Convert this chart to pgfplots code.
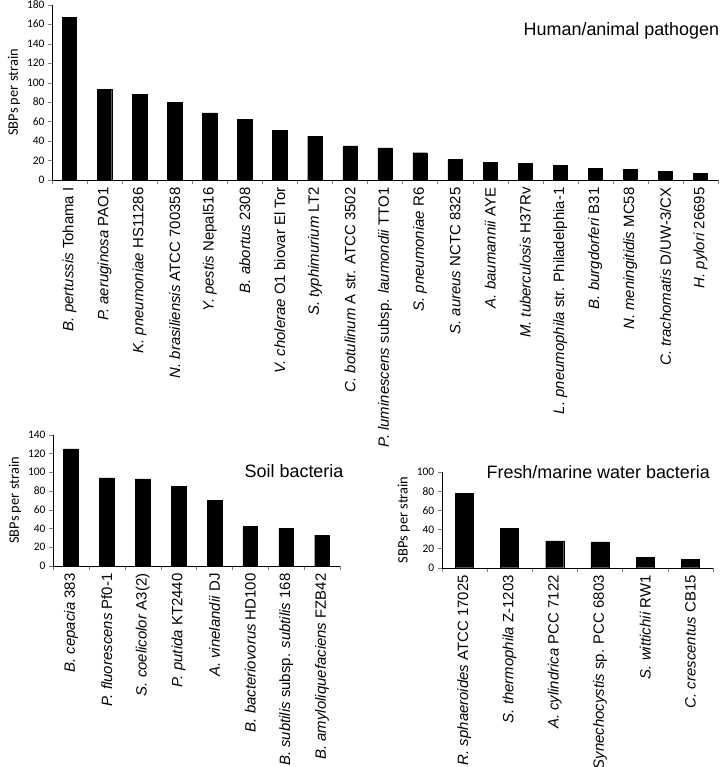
\documentclass[border=0pt]{standalone}
\usepackage{fontspec}
\setmainfont{Liberation Sans}
\newfontfamily\calib{Carlito}
\usepackage{pgfplots}
\pgfplotsset{compat=1.18}

\pgfplotsset{
  sbp/.style={
    scale only axis,
    clip=false,
    ybar, bar shift=0pt,
    axis x line*=bottom, axis y line*=left,
    ymin=0,
    xtick=data,
    major x tick style={draw=none},
    tick align=outside,
    major tick length=4bp, minor tick length=4bp,
    /pgf/number format/assume math mode=true,
    yticklabel style={font=\fontsize{11.5}{12}\selectfont\calib},
    ylabel={SBPs per strain},
    ylabel style={font=\fontsize{14.5}{16}\selectfont\calib},
    x tick label style={rotate=90, anchor=east, font=\fontsize{15}{17}\selectfont},
    enlarge x limits=false,
  },
}

\begin{document}
\begin{tikzpicture}
\useasboundingbox (0,0) rectangle (720bp,767bp);

% human / animal pathogens
\begin{axis}[sbp,
  at={(52bp,587bp)}, anchor=south west,
  width=666bp, height=175.3bp,
  bar width=14.3bp,
  xmin=-0.5, xmax=18.5,
  ymax=180, ytick={0,20,...,180},
  minor xtick={-0.5,0.5,...,18.5},
  xticklabels={
    {\textit{B. pertussis} Tohama I},
    {\textit{P. aeruginosa} PAO1},
    {\textit{K. pneumoniae} HS11286},
    {\textit{N. brasiliensis} ATCC 700358},
    {\textit{Y. pestis} Nepal516},
    {\textit{B. abortus} 2308},
    {\textit{V. cholerae} O1 biovar El Tor},
    {\textit{S. typhimurium} LT2},
    {\textit{C. botulinum} A str. ATCC 3502},
    {\textit{P. luminescens} subsp. \textit{laumondii} TTO1},
    {\textit{S. pneumoniae} R6},
    {\textit{S. aureus} NCTC 8325},
    {\textit{A. baumannii} AYE},
    {\textit{M. tuberculosis} H37Rv},
    {\textit{L. pneumophila} str. Philadelphia-1},
    {\textit{B. burgdorferi} B31},
    {\textit{N. meningitidis} MC58},
    {\textit{C. trachomatis} D/UW-3/CX},
    {\textit{H. pylori} 26695}},
]
\addplot[fill=black, draw=black] coordinates {
  (0,167) (1,93) (2,88) (3,80) (4,69) (5,62) (6,51) (7,45) (8,35) (9,33)
  (10,28) (11,21) (12,18) (13,17) (14,15) (15,12) (16,11) (17,9) (18,7)
};
\node[font=\fontsize{18}{20}\selectfont] at (rel axis cs:0.855,0.853) {Human/animal pathogen};
\end{axis}

% soil bacteria
\begin{axis}[sbp,
  at={(53bp,201bp)}, anchor=south west,
  width=287bp, height=131.3bp,
  bar width=14.7bp,
  xmin=-0.5, xmax=7.5,
  ymax=140, ytick={0,20,...,140},
  minor xtick={-0.5,0.5,...,7.5},
  xticklabels={
    {\textit{B. cepacia} 383},
    {\textit{P. fluorescens} Pf0-1},
    {\textit{S. coelicolor} A3(2)},
    {\textit{P. putida} KT2440},
    {\textit{A. vinelandii} DJ},
    {\textit{B. bacteriovorus} HD100},
    {\textit{B. subtilis} subsp. \textit{subtilis} 168},
    {\textit{B. amyloliquefaciens} FZB42}},
]
\addplot[fill=black, draw=black] coordinates {
  (0,125) (1,94) (2,93) (3,85) (4,70) (5,42) (6,40) (7,33)
};
\node[font=\fontsize{18}{20}\selectfont] at (rel axis cs:0.84,0.724) {Soil bacteria};
\end{axis}

% fresh / marine water bacteria
\begin{axis}[sbp,
  at={(441.7bp,199.3bp)}, anchor=south west,
  width=271.3bp, height=95.7bp,
  bar width=18bp,
  xmin=-0.5, xmax=5.5,
  ymax=100, ytick={0,20,...,100},
  minor xtick={-0.5,0.5,...,5.5},
  xticklabels={
    {\textit{R. sphaeroides} ATCC 17025},
    {\textit{S. thermophila} Z-1203},
    {\textit{A. cylindrica} PCC 7122},
    {\textit{Synechocystis} sp. PCC 6803},
    {\textit{S. wittichii} RW1},
    {\textit{C. crescentus} CB15}},
]
\addplot[fill=black, draw=black] coordinates {
  (0,78) (1,41) (2,28) (3,27) (4,11) (5,9)
};
\node[font=\fontsize{18}{20}\selectfont] at (rel axis cs:0.577,1.003) {Fresh/marine water bacteria};
\end{axis}
\end{tikzpicture}
\end{document}
